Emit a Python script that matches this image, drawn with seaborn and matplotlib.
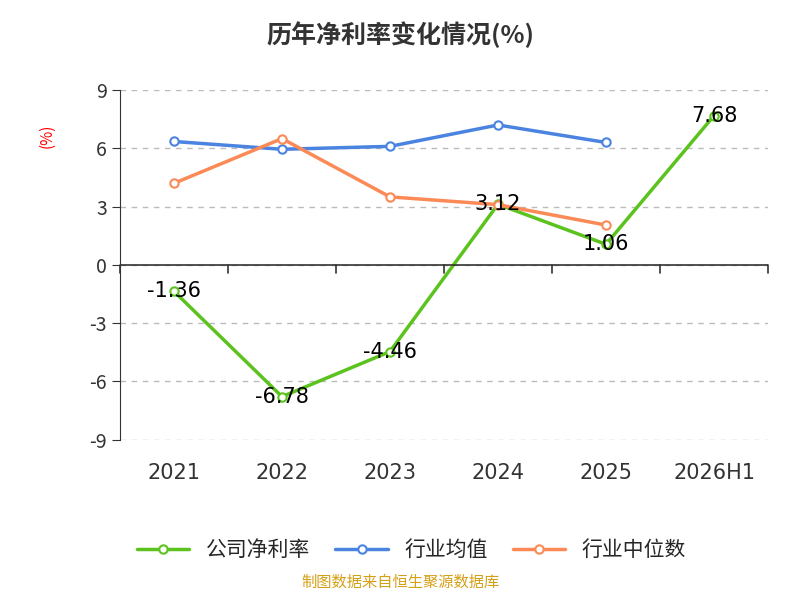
import matplotlib
matplotlib.use("Agg")
import matplotlib.pyplot as plt
import numpy as np
import pandas as pd
import seaborn as sns

years = ["2021", "2022", "2023", "2024", "2025", "2026H1"]
company = [-1.36, -6.78, -4.46, 3.12, 1.06, 7.68]
ind_mean = [6.35, 5.95, 6.1, 7.2, 6.3]
ind_median = [4.2, 6.5, 3.5, 3.1, 2.05]

sns.set_style("white")
plt.rcParams["font.family"] = ["Noto Sans CJK SC", "DejaVu Sans"]

fig = plt.figure(figsize=(8, 6), dpi=100)
ax = fig.add_axes([0.15, 0.267, 0.81, 0.583])

x = np.arange(len(years))
df = pd.DataFrame({"x": x, "company": company})
series = [
    (x, company, "#5cc31e", "公司净利率"),
    (x[:5], ind_mean, "#4a83e0", "行业均值"),
    (x[:5], ind_median, "#fb8a57", "行业中位数"),
]
for xs, ys, c, name in series:
    sns.lineplot(x=xs, y=ys, ax=ax, color=c, lw=2.5, label=name, marker="o",
                 markersize=6, markerfacecolor="white", markeredgecolor=c,
                 markeredgewidth=1.5)

for xi, v in zip(x, company):
    ax.text(xi, v, f"{v:.2f}", ha="center", va="center", fontsize=15, color="black", family="DejaVu Sans")

ax.set_xlim(-0.5, 5.5)
ax.set_ylim(-9, 9)
ax.set_yticks([-9, -6, -3, 0, 3, 6, 9])
ax.set_yticklabels(["-9", "-6", "-3", "0", "3", "6", "9"], fontsize=14, color="#333333")
ax.grid(axis="y", ls=(0, (4, 4)), color="#bbbbbb", lw=1)
ax.set_xticks([])
for s in ["top", "right", "bottom"]:
    ax.spines[s].set_visible(False)
ax.spines["left"].set_color("#333333")
ax.tick_params(axis="y", length=6, color="#333333", direction="out", left=True)
ax.axhline(0, color="#333333", lw=1.2)
for b in np.arange(-0.5, 5.6, 1.0):
    ax.plot([b, b], [0, -0.4], color="#333333", lw=1.2, clip_on=False)
for xi, y in zip(x, years):
    ax.text(xi, -10.2, y, ha="center", va="top", fontsize=15, color="#333333", family="DejaVu Sans")
ax.set_xlabel("")
ax.set_ylabel("(%)", color="red", fontsize=11, labelpad=8)
ax.yaxis.set_label_coords(-0.1, 0.87)

ax.legend(loc="upper center", bbox_to_anchor=(0.45, -0.23), ncol=3, frameon=False,
          fontsize=15, handlelength=2.5, columnspacing=1.2)
fig.text(0.5, 0.965, "历年净利率变化情况(%)", ha="center", va="top", fontsize=18, fontweight="bold", color="#333333")
fig.text(0.5, 0.015, "制图数据来自恒生聚源数据库", ha="center", va="bottom", fontsize=11, color="#d4a017")
fig.savefig("out.png", dpi=100)
